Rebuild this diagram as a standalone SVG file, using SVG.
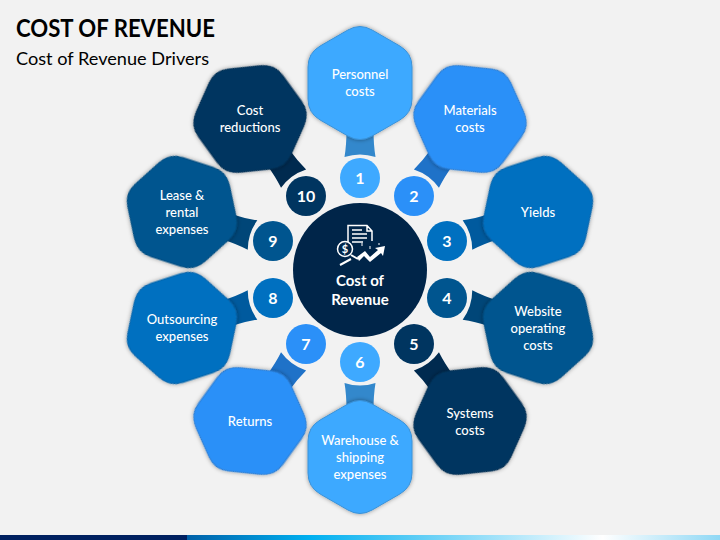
<svg xmlns="http://www.w3.org/2000/svg" width="720" height="540" viewBox="0 0 720 540">
<style>
text{font-family:"Lato","Liberation Sans",sans-serif;fill:#fff;text-anchor:middle}
.l{font-size:13px;font-weight:500}
.n{font-size:16px;font-weight:700}
.h{filter:url(#sh)}
.c1{fill:#3EA9FF;stroke:#3A92D8}.c2{fill:#2B90F8;stroke:#2A7BD0}.c3{fill:#0070C0;stroke:#0A63A8}.c4{fill:#00558F;stroke:#044C7F}.c5{fill:#003560;stroke:#032E52}
.f1{fill:#3EA9FF}.f2{fill:#2B90F8}.f3{fill:#0070C0}.f4{fill:#00558F}.f5{fill:#003560}
.k1{fill:#3388CC}.k2{fill:#1F72C8}.k3{fill:#005A9E}.k4{fill:#004678}.k5{fill:#002A4F}
.i{fill:none;stroke:#fff;stroke-width:1.5}
</style>
<defs>
<filter id="sh" x="-20%" y="-20%" width="140%" height="140%"><feDropShadow dx="0" dy="0" stdDeviation="2" flood-color="#000" flood-opacity=".4"/></filter>
<linearGradient id="bar" x1="187" x2="720" y1="0" y2="0" gradientUnits="userSpaceOnUse"><stop offset="0" stop-color="#0060A8"/><stop offset=".23" stop-color="#00B0F0"/><stop offset=".78" stop-color="#fff"/><stop offset="1" stop-color="#8FD8F5"/></linearGradient>
<path id="hex" d="M-12.12,-53Q0,-60 12.12,-53L39.88,-37Q52,-30 52,-16L52,16Q52,30 39.88,37L12.12,53Q0,60 -12.12,53L-39.88,37Q-52,30 -52,16L-52,-16Q-52,-30 -39.88,-37Z"/>
<path id="neck" d="M-13.500,-140L13.500,-140Q13.500,-125 15.500,-113Q0,-118 -15.500,-113Q-13.500,-125 -13.500,-140Z"/>
</defs>
<rect width="720" height="540" fill="#F2F2F2"/>
<rect y="535" width="187" height="5" fill="#002060"/>
<rect x="187" y="535" width="533" height="5" fill="url(#bar)"/>
<text x="16" y="37" style="font-size:24px;font-weight:700;text-anchor:start;fill:#000" textLength="199" lengthAdjust="spacingAndGlyphs">COST OF REVENUE</text>
<text x="16" y="65" style="font-size:18px;text-anchor:start;fill:#000" textLength="193" lengthAdjust="spacingAndGlyphs">Cost of Revenue Drivers</text>
<g id="connectors" transform="translate(360 270)">
<use href="#neck" class="k1"/>
<use href="#neck" class="k2" transform="rotate(36)"/>
<use href="#neck" class="k3" transform="rotate(72)"/>
<use href="#neck" class="k4" transform="rotate(108)"/>
<use href="#neck" class="k5" transform="rotate(144)"/>
<use href="#neck" class="k1" transform="rotate(180)"/>
<use href="#neck" class="k2" transform="rotate(216)"/>
<use href="#neck" class="k3" transform="rotate(252)"/>
<use href="#neck" class="k4" transform="rotate(288)"/>
<use href="#neck" class="k5" transform="rotate(324)"/>
</g>
<g id="node-1"><use href="#hex" class="c1 h" transform="translate(360 83)"/><text class="l" x="360" y="79">Personnel</text><text class="l" x="360" y="96">costs</text><circle cx="360" cy="178" r="20" class="f1"/><text class="n" x="360" y="183.500">1</text></g>
<g id="node-2"><use href="#hex" class="c2 h" transform="translate(470 119) rotate(36)"/><text class="l" x="470" y="115">Materials</text><text class="l" x="470" y="132">costs</text><circle cx="414" cy="196" r="20" class="f2"/><text class="n" x="414" y="201.500">2</text></g>
<g id="node-3"><use href="#hex" class="c3 h" transform="translate(538 212) rotate(72)"/><text class="l" x="538" y="217">Yields</text><circle cx="447" cy="241" r="20" class="f3"/><text class="n" x="447" y="246.500">3</text></g>
<g id="node-4"><use href="#hex" class="c4 h" transform="translate(538 328) rotate(108)"/><text class="l" x="538" y="316">Website</text><text class="l" x="538" y="333">operating</text><text class="l" x="538" y="350">costs</text><circle cx="447" cy="298" r="20" class="f4"/><text class="n" x="447" y="303.500">4</text></g>
<g id="node-5"><use href="#hex" class="c5 h" transform="translate(470 421) rotate(144)"/><text class="l" x="470" y="418">Systems</text><text class="l" x="470" y="435">costs</text><circle cx="414" cy="344" r="20" class="f5"/><text class="n" x="414" y="349.500">5</text></g>
<g id="node-6"><use href="#hex" class="c1 h" transform="translate(360 457)"/><text class="l" x="360" y="445">Warehouse &amp;</text><text class="l" x="360" y="462">shipping</text><text class="l" x="360" y="479">expenses</text><circle cx="360" cy="362" r="20" class="f1"/><text class="n" x="360" y="367.500">6</text></g>
<g id="node-7"><use href="#hex" class="c2 h" transform="translate(250 421) rotate(36)"/><text class="l" x="250" y="426">Returns</text><circle cx="306" cy="344" r="20" class="f2"/><text class="n" x="306" y="349.500">7</text></g>
<g id="node-8"><use href="#hex" class="c3 h" transform="translate(182 328) rotate(72)"/><text class="l" x="182" y="324">Outsourcing</text><text class="l" x="182" y="341">expenses</text><circle cx="273" cy="298" r="20" class="f3"/><text class="n" x="273" y="303.500">8</text></g>
<g id="node-9"><use href="#hex" class="c4 h" transform="translate(182 212) rotate(108)"/><text class="l" x="182" y="200">Lease &amp;</text><text class="l" x="182" y="217">rental</text><text class="l" x="182" y="234">expenses</text><circle cx="273" cy="241" r="20" class="f4"/><text class="n" x="273" y="246.500">9</text></g>
<g id="node-10"><use href="#hex" class="c5 h" transform="translate(250 119) rotate(144)"/><text class="l" x="250" y="115">Cost</text><text class="l" x="250" y="132">reductions</text><circle cx="306" cy="196" r="20" class="f5"/><text class="n" x="306" y="201.500">10</text></g>
<g id="center">
<circle cx="360" cy="270" r="67" fill="#002549"/>
<path class="i" d="M348,242V225.500H367L372,231V241M367,226V231H372M352,230H362M352,234H367M352,238H367M352,242H363"/>
<circle cx="345" cy="249" r="7.500" fill="#002549" stroke="#fff" stroke-width="1.500"/>
<text x="345" y="253" style="font-size:11px;font-weight:700">$</text>
<path d="M340,265L351,259M351,255L358,259" stroke="#fff" stroke-width="2" fill="none"/>
<path d="M357,257L365,251L370,257L378,250L375,248L385,246L383,256L381,253L370,262L364,256L359,261Z" fill="#fff"/>
<path d="M362,243V246M370,246V249M379,243V245" stroke="#fff" fill="none"/>
<text x="360" y="286" style="font-size:15px;font-weight:700">Cost of</text>
<text x="360" y="305" style="font-size:15px;font-weight:700">Revenue</text>
</g>
</svg>
